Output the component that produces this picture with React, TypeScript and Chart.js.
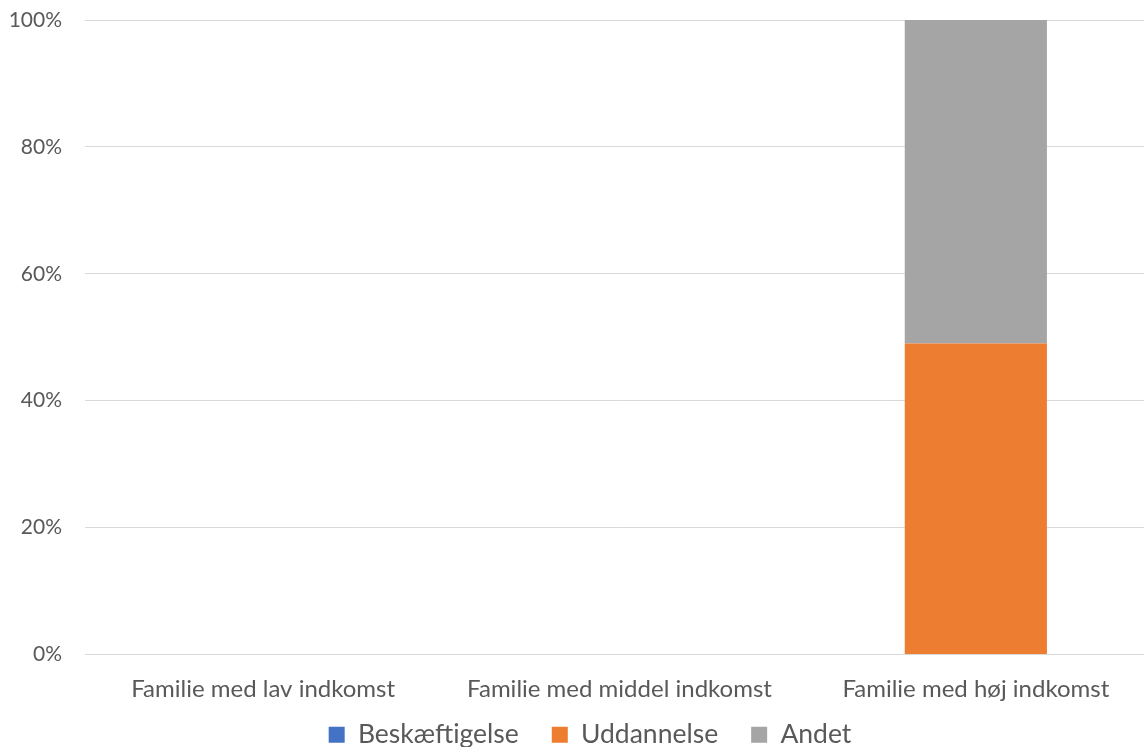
import React, { useEffect, useRef } from "react";
import { Chart, registerables, CategoryScale, LinearScale } from "chart.js";

class NoClipCategory extends (CategoryScale as any) {
  static id = "noclipcategory";
  static defaults = (CategoryScale as any).defaults;
  _computeLabelArea() {
    return undefined;
  }
}
class NoClipLinear extends (LinearScale as any) {
  static id = "nocliplinear";
  static defaults = (LinearScale as any).defaults;
  _computeLabelArea() {
    return undefined;
  }
}

Chart.register(...registerables, NoClipCategory as any, NoClipLinear as any);

const categories = ["Familie med lav indkomst", "Familie med middel indkomst", "Familie med høj indkomst"];
const beskaeftigelse = [0, 0, 0];
const uddannelse = [0, 0, 49];
const andet = [0, 0, 51];
const yTicks = [0, 20, 40, 60, 80, 100];

const FONT = "Lato, sans-serif";
const TEXT = "#595959";

export default function App() {
  const ref = useRef<HTMLCanvasElement | null>(null);
  useEffect(() => {
    if (!ref.current) return;
    const chart = new Chart(ref.current, {
      type: "bar",
      data: {
        labels: categories,
        datasets: [
          { label: "Beskæftigelse", data: beskaeftigelse, backgroundColor: "#4472C4" },
          { label: "Uddannelse", data: uddannelse, backgroundColor: "#ED7D31" },
          { label: "Andet", data: andet, backgroundColor: "#A5A5A5" },
        ],
      },
      options: {
        responsive: false,
        animation: false,
        layout: { autoPadding: false, padding: { top: 20, right: 26, left: 26, bottom: 0 } },
        datasets: { bar: { barPercentage: 1, categoryPercentage: 0.399 } },
        plugins: {
          tooltip: { enabled: false },
          legend: {
            position: "bottom",
            labels: {
              boxWidth: 16,
              boxHeight: 16,
              padding: 33,
              color: TEXT,
              font: { family: FONT, size: 26.5 },
            },
          },
        },
        scales: {
          x: {
            type: "noclipcategory" as any,
            stacked: true,
            grid: { display: false },
            border: { display: false },
            ticks: { color: TEXT, font: { family: FONT, size: 24 }, padding: 12, maxRotation: 0 },
            afterFit: (s: any) => { s.height = 34; },
          },
          y: {
            type: "nocliplinear" as any,
            stacked: true,
            min: 0,
            max: 100,
            afterBuildTicks: (s: any) => { s.ticks = yTicks.map((v) => ({ value: v })); },
            grid: { color: "#D9D9D9", lineWidth: 1, drawTicks: true, tickLength: 23, tickColor: "rgba(0,0,0,0)" },
            border: { display: false },
            ticks: {
              color: TEXT,
              font: { family: FONT, size: 21 },
              padding: 0,
              callback: (v: any) => v + "%",
            },
            afterFit: (s: any) => { s.width = 59; },
          },
        },
      },
    });
    return () => chart.destroy();
  }, []);
  return (
    <div style={{ position: "fixed", left: 0, top: 0, width: 1144, height: 747, overflow: "hidden", background: "#fff" }}>
      <canvas ref={ref} width={1180} height={758} style={{ display: "block" }} />
    </div>
  );
}
